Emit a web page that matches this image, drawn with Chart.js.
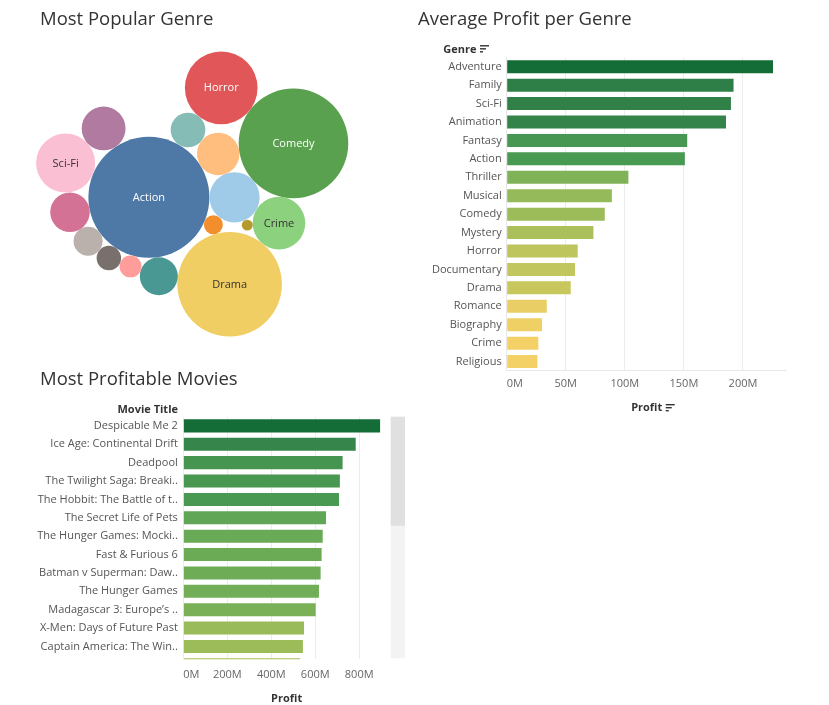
<!DOCTYPE html>
<html><head><meta charset="utf-8">
<script src="https://cdn.jsdelivr.net/npm/chart.js"></script>
<style>
html,body{margin:0;padding:0;background:#fff;width:829px;height:705px;overflow:hidden;}
.box{position:absolute;}
canvas{display:block;}
</style></head><body>
<div class="box" style="left:0;top:0;"><canvas id="c1" width="410" height="360"></canvas></div>
<div class="box" style="left:410px;top:0;"><canvas id="c2" width="419" height="420"></canvas></div>
<div class="box" style="left:0;top:360px;"><canvas id="c3" width="420" height="345"></canvas></div>
<script>
// ---------------- DATA ----------------
// Most Popular Genre (number of movies per genre, bubble area)
const genreNames = ['Action','Adventure','Animation','Biography','Comedy','Crime','Documentary','Drama','Family','Fantasy','Horror','Musical','Mystery','Religious','Romance','Sci-Fi','Thriller'];
const genreMovieCounts = [122,21,3,15,100,23,1,91,12,10,44,4,5,7,13,29,16];
const genreColors = ['#4E79A7','#A0CBE8','#F28E2B','#FFBE7D','#59A14F','#8CD17D','#B6992D','#F1CE63','#499894','#86BCB6','#E15759','#FF9D9A','#79706E','#BAB0AC','#D37295','#FABFD2','#B07AA1'];
// packing order: each bubble is laid tangent to these two earlier bubbles
const genreTouches = [null, ['Action'], ['Action','Adventure'], ['Action','Adventure'], ['Biography','Adventure'],
  ['Comedy','Adventure'], ['Crime','Adventure'], ['Crime','Animation'], ['Drama','Action'], ['Action','Biography'],
  ['Fantasy','Comedy'], ['Family','Action'], ['Musical','Action'], ['Mystery','Action'], ['Religious','Action'],
  ['Romance','Action'], ['Sci-Fi','Action']];

// Average Profit per Genre (millions)
const profitGenres = ['Adventure','Family','Sci-Fi','Animation','Fantasy','Action','Thriller','Musical','Comedy','Mystery','Horror','Documentary','Drama','Romance','Biography','Crime','Religious'];
const avgProfitM = [225.4,192.0,189.8,185.6,152.8,150.8,103.0,89.0,83.0,73.4,60.1,57.9,54.2,33.9,29.9,26.8,26.0];
const genreProfitTicksM = [0,50,100,150,200];
const genreProfitAxisMaxM = 237;

// Most Profitable Movies (millions)
const movieTitles = ['Despicable Me 2','Ice Age: Continental Drift','Deadpool','The Twilight Saga: Breaki..','The Hobbit: The Battle of t..','The Secret Life of Pets','The Hunger Games: Mocki..','Fast & Furious 6','Batman v Superman: Daw..','The Hunger Games','Madagascar 3: Europe\u2019s ..','X-Men: Days of Future Past','Captain America: The Win..','Zootopia'];
const movieProfitM = [895,784,724.5,712,708,649,634,629,624.5,617,602,549,544,532];
const movieProfitTicksM = [0,200,400,600,800];
const movieProfitAxisMaxM = 940;
const movieColorFloorM = 402;   // low end of the colour legend range
const visibleMovieRows = 13.2;   // rows visible in the scrolled view

// ---------------- HELPERS ----------------
const FONT = "'Open Sans', sans-serif";
const TITLE_SIZE = 18.5;
Chart.defaults.font.family = FONT;
Chart.defaults.animation = false;

const goldGreen = 'f4d166d5ca60b6c35c98bb597cb25760a6564b9c533f8f4f33834a257740146c36'.match(/.{6}/g)
  .map(h => [parseInt(h.slice(0,2),16), parseInt(h.slice(2,4),16), parseInt(h.slice(4,6),16)]);
function rampColor(t){
  t = Math.max(0, Math.min(1, t));
  const p = t * (goldGreen.length - 1), i = Math.min(goldGreen.length - 2, Math.floor(p)), f = p - i;
  const a = goldGreen[i], b = goldGreen[i+1];
  return 'rgb(' + [0,1,2].map(k => Math.round(a[k] + (b[k]-a[k]) * f)).join(',') + ')';
}
function brightness(hex){
  const r = parseInt(hex.slice(1,3),16), g = parseInt(hex.slice(3,5),16), b = parseInt(hex.slice(5,7),16);
  return (0.299*r + 0.587*g + 0.114*b) / 255;
}
function drawSortIcon(ctx, x, y){
  ctx.save();
  ctx.strokeStyle = '#333'; ctx.lineWidth = 1.4;
  [9, 6, 3].forEach((w, k) => {
    ctx.beginPath(); ctx.moveTo(x, y + k*3 + 0.5); ctx.lineTo(x + w, y + k*3 + 0.5); ctx.stroke();
  });
  ctx.restore();
}

// ---- circle packing: each circle tangent to two earlier ones ----
function packCircles(radii, touches, names){
  const placed = [];
  radii.forEach((r, i) => {
    const c = { r, x: 0, y: 0 };
    const t = touches[i];
    if (!t){ placed.push(c); return; }
    const p = placed[names.indexOf(t[0])];
    if (t.length === 1){ c.x = p.x + p.r + r; c.y = p.y; placed.push(c); return; }
    const q = placed[names.indexOf(t[1])];
    const dx = q.x - p.x, dy = q.y - p.y, d = Math.hypot(dx, dy);
    const ra = p.r + r, rb = q.r + r;
    const a = (ra*ra - rb*rb + d*d) / (2*d), h = Math.sqrt(Math.max(0, ra*ra - a*a));
    const ux = dx/d, uy = dy/d, bx = p.x + a*ux, by = p.y + a*uy;
    const cands = [{ x: bx - h*uy, y: by + h*ux }, { x: bx + h*uy, y: by - h*ux }]
      .map(k => ({ ...k, bad: placed.filter(o => Math.hypot(o.x - k.x, o.y - k.y) < o.r + r - 0.5).length }))
      .sort((m, n) => (m.bad - n.bad) || (n.y - m.y));
    c.x = cands[0].x; c.y = cands[0].y;
    placed.push(c);
  });
  return placed;
}

// ================= CHART 1 : packed bubbles =================
const BUBBLE_PX_PER_SQRT = 5.48;
const circles = packCircles(genreMovieCounts.map(v => Math.sqrt(v) * BUBBLE_PX_PER_SQRT), genreTouches, genreNames);
const bx0 = Math.min(...circles.map(c => c.x - c.r)), bx1 = Math.max(...circles.map(c => c.x + c.r));
const by0 = Math.min(...circles.map(c => c.y - c.r)), by1 = Math.max(...circles.map(c => c.y + c.r));
const bcx = (bx0 + bx1)/2, bcy = (by0 + by1)/2;
const c1Left = 40, c1Width = 370, c1Top = 8.7 + TITLE_SIZE*1.2 + 10, c1Height = 360 - c1Top;
const bubbleXMin = bcx - (192.2 - c1Left), bubbleYMin = bcy - (194 - c1Top);

const bubbleLabels = {
  id: 'bubbleLabels',
  afterDatasetsDraw(chart){
    const ctx = chart.ctx, meta = chart.getDatasetMeta(0);
    ctx.save();
    ctx.font = '11px ' + FONT; ctx.textAlign = 'center'; ctx.textBaseline = 'middle';
    meta.data.forEach((el, i) => {
      const name = genreNames[i], r = el.options.radius, w = ctx.measureText(name).width;
      if (w > r * 2 * 0.75) return;
      ctx.fillStyle = brightness(genreColors[i]) < 0.6 ? '#ffffff' : '#333333';
      ctx.fillText(name, el.x, el.y + 0.5);
    });
    ctx.restore();
  }
};

new Chart(document.getElementById('c1'), {
  type: 'bubble',
  data: { datasets: [{
    data: circles.map(c => ({ x: c.x, y: c.y, r: c.r })),
    backgroundColor: genreColors, borderWidth: 0, clip: false
  }]},
  options: {
    responsive: false,
    layout: { autoPadding: false, padding: { left: c1Left, right: 0, top: 0, bottom: 0 } },
    plugins: {
      legend: { display: false }, tooltip: { enabled: false },
      title: { display: true, text: 'Most Popular Genre', align: 'start', color: '#333',
        font: { size: TITLE_SIZE, weight: 'normal', lineHeight: 1.2 }, padding: { top: 8.7, bottom: 10 } }
    },
    scales: {
      x: { type: 'linear', display: false, min: bubbleXMin, max: bubbleXMin + c1Width },
      y: { type: 'linear', display: false, reverse: true, min: bubbleYMin, max: bubbleYMin + c1Height }
    }
  },
  plugins: [bubbleLabels]
});

// ================= CHART 2 : average profit per genre =================
const gMin = Math.min(...avgProfitM), gMax = Math.max(...avgProfitM);
const headerPlugin = (text, align, x, yOff, icon) => ({
  id: 'hdr' + text.replace(/\W/g,''),
  afterDraw(chart){
    const ctx = chart.ctx, a = chart.chartArea;
    ctx.save();
    ctx.font = 'bold 11px ' + FONT; ctx.fillStyle = '#333'; ctx.textBaseline = 'middle'; ctx.textAlign = align;
    const y = a.top - yOff;
    ctx.fillText(text, x, y);
    if (icon) drawSortIcon(ctx, x + ctx.measureText(text).width + 3.5, y - 4.5);
    ctx.restore();
  }
});
const profitIcon = {
  id: 'profitIcon',
  afterDraw(chart){
    const s = chart.scales.x, ctx = chart.ctx;
    ctx.save(); ctx.font = 'bold 11px ' + FONT;
    const w = ctx.measureText('Profit').width;
    const cy = s.bottom - 5.7 - 6.6;
    drawSortIcon(ctx, (s.left + s.right)/2 + w/2 + 3.5, cy - 3.5);
    ctx.restore();
  }
};

new Chart(document.getElementById('c2'), {
  type: 'bar',
  data: { labels: profitGenres, datasets: [{
    data: avgProfitM,
    backgroundColor: avgProfitM.map(v => rampColor((v - gMin)/(gMax - gMin))),
    borderWidth: 0, categoryPercentage: 1, barPercentage: 0.705
  }]},
  options: {
    indexAxis: 'y', responsive: false,
    layout: { padding: { left: 8, right: 419 - (786.7 - 410), top: 0, bottom: 0 } },
    plugins: {
      legend: { display: false }, tooltip: { enabled: false },
      title: { display: true, text: 'Average Profit per Genre', align: 'start', color: '#333',
        font: { size: TITLE_SIZE, weight: 'normal', lineHeight: 1.2 }, padding: { top: 8.7, bottom: 56 + 1.5 - 8.7 - TITLE_SIZE*1.2 } }
    },
    scales: {
      x: {
        type: 'linear', min: 0, max: genreProfitAxisMaxM,
        afterBuildTicks: s => { s.ticks = genreProfitTicksM.concat([genreProfitAxisMaxM]).map(v => ({ value: v })); },
        afterFit: s => { s.height = 420 - 369.3 - 1.5; },
        ticks: { align: 'inner', color: '#666', font: { size: 11 }, padding: 6,
          callback: v => genreProfitTicksM.includes(v) ? v + 'M' : '' },
        grid: { drawTicks: false, color: c => (c.tick && genreProfitTicksM.includes(c.tick.value)) ? '#ececec' : 'rgba(0,0,0,0)' },
        border: { display: true, color: '#e8e8e8' },
        title: { display: true, text: 'Profit', color: '#333', font: { size: 11, weight: 'bold', lineHeight: 1.2 }, padding: { top: 0, bottom: 5.7 } }
      },
      y: {
        afterFit: s => { s.width = 506.7 - 418; },
        ticks: { color: '#555', font: { size: 11 }, padding: 5 },
        grid: { display: false, drawTicks: false },
        border: { display: true, color: '#e8e8e8' }
      }
    }
  },
  plugins: [headerPlugin('Genre', 'left', 443.3 - 410, 7.7, true), profitIcon]
});

// ================= CHART 3 : most profitable movies =================
const mMax = Math.max(...movieProfitM);
const scrollBar = {
  id: 'scrollBar',
  afterDraw(chart){
    const a = chart.chartArea, ctx = chart.ctx;
    ctx.save();
    ctx.fillStyle = '#f3f3f3'; ctx.fillRect(a.right + 0.7, a.top, 14.3, a.bottom - a.top - 1);
    ctx.fillStyle = '#e0e0e0'; ctx.fillRect(a.right + 0.7, a.top, 14.3, (a.bottom - a.top) * 0.45);
    ctx.restore();
  }
};
const panelTitle = (text, x) => ({
  id: 'panelTitle',
  afterDraw(chart){
    const ctx = chart.ctx;
    ctx.save();
    ctx.font = TITLE_SIZE + 'px ' + FONT; ctx.fillStyle = '#333'; ctx.textAlign = 'left'; ctx.textBaseline = 'middle';
    ctx.fillText(text, x, 8.7 + TITLE_SIZE*0.6);
    ctx.restore();
  }
});

new Chart(document.getElementById('c3'), {
  type: 'bar',
  data: { datasets: [{
    data: movieProfitM.map((v, i) => ({ x: v, y: i })),
    backgroundColor: movieProfitM.map(v => rampColor((v - movieColorFloorM)/(mMax - movieColorFloorM))),
    borderWidth: 0, categoryPercentage: 1, barPercentage: 0.71
  }]},
  options: {
    indexAxis: 'y', responsive: false,
    layout: { padding: { left: 30, right: 30, top: 56.7, bottom: 0 } },
    plugins: { legend: { display: false }, tooltip: { enabled: false }, title: { display: false } },
    scales: {
      x: {
        type: 'linear', min: 0, max: movieProfitAxisMaxM,
        afterBuildTicks: s => { s.ticks = movieProfitTicksM.concat([movieProfitAxisMaxM]).map(v => ({ value: v })); },
        afterFit: s => { s.height = 345 - 299.3; },
        ticks: { align: 'inner', color: '#666', font: { size: 11 }, padding: 9,
          callback: v => movieProfitTicksM.includes(v) ? v + 'M' : '' },
        grid: { drawTicks: false, color: c => (c.tick && movieProfitTicksM.includes(c.tick.value)) ? '#ececec' : 'rgba(0,0,0,0)' },
        border: { display: false },
        title: { display: true, text: 'Profit', color: '#333', font: { size: 11, weight: 'bold', lineHeight: 1.2 }, padding: { top: 0, bottom: 0 } }
      },
      y: {
        type: 'linear', reverse: true, offset: false, min: -0.5, max: -0.5 + visibleMovieRows,
        afterBuildTicks: s => { s.ticks = movieTitles.map((t, i) => ({ value: i })).filter(t => t.value <= s.max); },
        afterFit: s => { s.width = 183.3 - 30; },
        ticks: { color: '#555', font: { size: 11 }, padding: 5.5, callback: v => movieTitles[v] },
        grid: { display: false, drawTicks: false, offset: false },
        border: { display: false }
      }
    }
  },
  plugins: [panelTitle('Most Profitable Movies', 40), headerPlugin('Movie Title', 'right', 178, 6.5, false), scrollBar]
});
</script>
</body></html>
